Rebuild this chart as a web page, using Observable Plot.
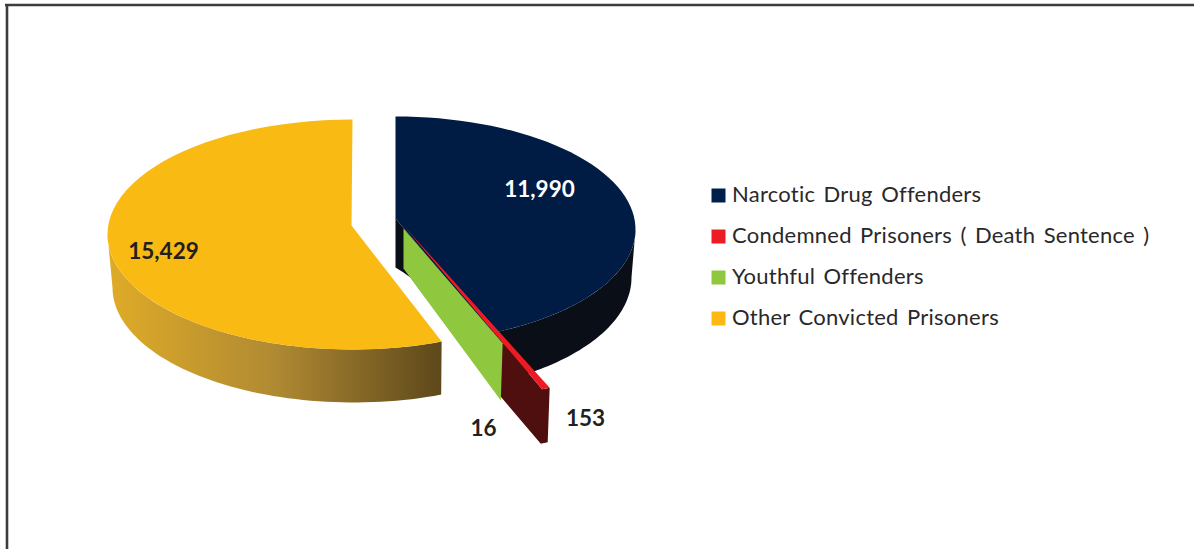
<!DOCTYPE html>
<html>
<head>
<meta charset="utf-8">
<style>html,body{margin:0;padding:0;background:#fff}svg{display:block}</style>
<script src="https://cdn.jsdelivr.net/npm/d3@7"></script>
<script src="https://cdn.jsdelivr.net/npm/@observablehq/plot@0.6"></script>
</head>
<body>
<script>
// ---- data ----
const categories = ["Narcotic Drug Offenders","Condemned Prisoners ( Death Sentence )","Youthful Offenders","Other Convicted Prisoners"];
const values = [11990,153,16,15429];
const valueLabels = ["11,990","153","16","15,429"];

// ---- styles and layout ----
const colors = ["#001b44","#ed1c24","#8fc73f","#f9ba14"];
const legendColors = ["#001f4b","#ed1c24","#8fc73f","#fdb913"];
const labelColors = ["#ffffff","#231f20","#231f20","#231f20"];
const labelAt = [[539,189],[585,418],[483,428],[163,251]];
const font = "Lato, Carlito, sans-serif";

const arcs = d3.pie().sort(null).startAngle(0).endAngle(2*Math.PI)(values);
const ring = (g,t) => ({x:g.x+g.rx*Math.sin(t), y:g.y-g.ry*Math.cos(t)});
const sweep = (g,a,b) => d3.range(0,61).map(i => ring(g,a+(b-a)*i/60));
const along = (g,t,f) => { const p = ring(g,t); return {x:g.x+(p.x-g.x)*f, y:g.y+(p.y-g.y)*f}; };

// each wedge is its own ellipse because the reference's perspective is uneven
const blueTop = {x:395,y:229,rx:240,ry:113}, blueBot = {x:395,y:277,rx:236,ry:116};
const yellowTop = {x:352,y:234,rx:245,ry:115}, yellowBot = {x:353,y:287,rx:241,ry:115};
const redTop = {x:403,y:225,rx:366,ry:177}, redBot = {x:415,y:296,rx:331,ry:159};
const greenTop = {x:403,y:228,rx:270,ry:123.5}, greenBot = {x:403,y:268,rx:265,ry:142};

const [blue,red,green,yellow] = arcs;
const redEnd = red.startAngle + (red.endAngle-red.startAngle)*.65; // drawn narrower, as in the reference

const poly = (pts,fill) => Plot.line(pts,{x:"x",y:"y",fill,stroke:"none",curve:"linear-closed"});

const bluePts = [{x:395,y:218},...sweep(blueTop,blue.endAngle,0)];
const blueWall = [{x:395,y:218},...sweep(blueTop,blue.endAngle,Math.PI/2),...sweep(blueBot,Math.PI/2,blue.endAngle),
  {x:410,y:277},{x:403,y:272},{x:395,y:267}];
const redT = sweep(redTop,redEnd,red.startAngle);
const redB = sweep(redBot,red.startAngle,redEnd);
const redWall = [along(redTop,redEnd,.65),...redT,...redB,along(redBot,redEnd,.65)];
const redFace = [{x:redTop.x,y:redTop.y},...redT];
const greenWall = [ {x:greenTop.x,y:greenTop.y}, ring(greenTop,green.startAngle), ring(greenBot,green.startAngle), {x:greenBot.x,y:greenBot.y}];
const yellowFace = [{x:351,y:225},...sweep(yellowTop,yellow.startAngle,yellow.endAngle)];
const yellowWall = [...sweep(yellowTop,yellow.startAngle,1.5*Math.PI),...sweep(yellowBot,1.5*Math.PI,yellow.startAngle)];

const legend = categories.map((name,i)=>({name,color:legendColors[i],row:195+41*i}));
const labels = valueLabels.map((t,i)=>({t,color:labelColors[i],x:labelAt[i][0],y:labelAt[i][1]}));

const defs = () => {
  const s = d3.create("svg:g");
  const g = s.append("defs").append("linearGradient").attr("id","sideGrad")
    .attr("gradientUnits","userSpaceOnUse").attr("x1",107).attr("x2",441).attr("y1",0).attr("y2",0);
  [[0,"#dfab27"],[.5,"#b08a33"],[1,"#5d481b"]].forEach(([o,c])=>g.append("stop").attr("offset",o).attr("stop-color",c));
  return s.node();
};

const chart = Plot.plot({
  width:1194,height:549,margin:0,
  x:{domain:[0,1194],range:[0,1194],axis:null},
  y:{domain:[0,549],range:[0,549],axis:null},
  style:{background:"#fff",fontFamily:font},
  marks:[
    defs,
    Plot.ruleY([4.5],{x1:5,x2:1194,stroke:"#3c3c3c",strokeWidth:2.6}),
    Plot.ruleX([6.5],{y1:4,y2:549,stroke:"#3c3c3c",strokeWidth:2.6}),
    poly(blueWall,"#0a0f17"),
    poly(bluePts,colors[0]),
    poly(redWall,"#4f0f0e"),
    poly(redFace,colors[1]),
    poly(greenWall,colors[2]),
    poly(yellowWall,"url(#sideGrad)"),
    poly(yellowFace,colors[3]),
    Plot.text(labels,{x:"x",y:"y",text:"t",fill:"color",fontWeight:"bold",fontSize:22.5,fontFamily:font}),
    Plot.dot(legend,{x:()=>718,y:"row",r:7.9,symbol:"square",fill:"color",stroke:"none"}),
    Plot.text(legend,{x:()=>731.5,y:"row",dy:-1,text:"name",textAnchor:"start",fill:"#2a2829",fontSize:22,fontFamily:font})
  ]
});
d3.select(chart).selectAll('g[aria-label="text"]').filter((d,i)=>i===1)
  .style("letter-spacing","0.25px").style("word-spacing","2.5px");
document.body.appendChild(chart);
</script>
</body>
</html>
